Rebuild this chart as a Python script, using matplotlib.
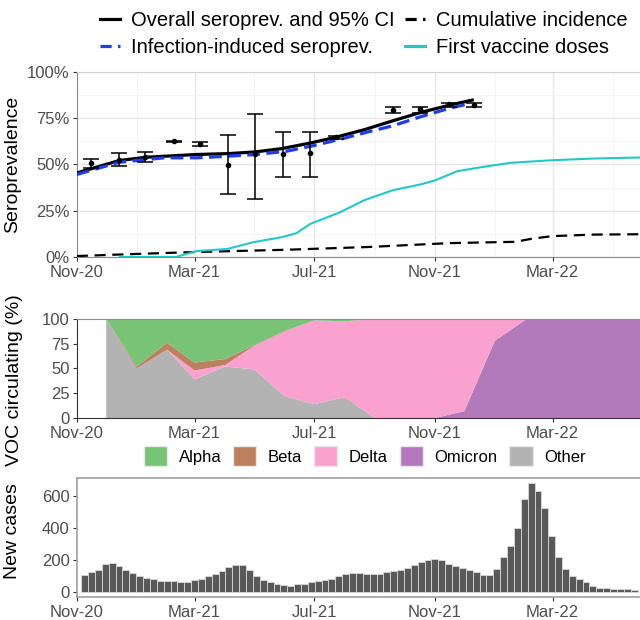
import numpy as np
import pandas as pd
import matplotlib
matplotlib.use("Agg")
import matplotlib.pyplot as plt
import matplotlib.dates as mdates
from matplotlib.patches import Patch
from matplotlib.lines import Line2D
from matplotlib.ticker import FuncFormatter

plt.rcParams['font.family'] = ['Liberation Sans', 'DejaVu Sans']

# serosurvey estimates with 95% CI
sero_dates = ['2020-11-15', '2020-12-14', '2021-01-10', '2021-02-08', '2021-03-07',
              '2021-04-04', '2021-05-02', '2021-05-30', '2021-06-27', '2021-07-23',
              '2021-09-19', '2021-10-17', '2021-11-15', '2021-12-11']
sero_est = [50.9, 52.3, 53.8, 62.5, 61.1, 49.6, 55.4, 55.9, 56.1, 64.6, 79.5, 79.8, 82.5, 82.1]
sero_lo = [48.2, 49.1, 51.1, 62.1, 59.8, 33.8, 31.6, 43.2, 43.2, 64.0, 78.0, 77.7, 81.2, 80.9]
sero_hi = [53.0, 56.2, 57.0, 62.9, 62.3, 65.7, 77.3, 67.7, 67.7, 65.2, 81.1, 81.2, 83.0, 83.2]

# fitted overall seroprevalence
overall_dates = ['2020-11-01', '2020-12-14', '2021-01-10', '2021-03-03', '2021-04-05',
                 '2021-05-02', '2021-05-29', '2021-06-27', '2021-07-22', '2021-08-21',
                 '2021-09-19', '2021-10-18', '2021-11-16', '2021-12-09']
overall_val = [45.4, 52.1, 53.9, 55.4, 55.9, 56.8, 58.6, 61.6, 64.6, 68.8, 73.6, 78.2, 82.1, 84.8]

# infection-induced seroprevalence
infect_dates = ['2020-11-01', '2020-12-14', '2021-01-29', '2021-03-03', '2021-04-05',
                '2021-05-02', '2021-06-02', '2021-06-27', '2021-07-26', '2021-08-24',
                '2021-09-19', '2021-10-18', '2021-11-16', '2021-12-03']
infect_val = [44.6, 51.2, 53.6, 53.6, 54.5, 55.4, 57.1, 59.8, 63.4, 67.5, 70.9, 75.9, 80.4, 82.5]

# first vaccine doses (% population)
vacc_dates = ['2020-12-15', '2021-02-10', '2021-03-03', '2021-04-03', '2021-04-30',
              '2021-05-29', '2021-06-13', '2021-06-27', '2021-07-27', '2021-08-21',
              '2021-09-19', '2021-10-18', '2021-11-01', '2021-11-24', '2021-12-19',
              '2022-01-17', '2022-02-28', '2022-04-11', '2022-05-30']
vacc_val = [0, 0, 3.2, 4.3, 8.0, 10.7, 12.9, 17.9, 24.1, 30.7, 36.1, 39.3, 41.4,
            46.4, 48.6, 50.9, 52.3, 53.2, 53.8]

# cumulative incidence
cumi_dates = ['2020-11-01', '2020-12-18', '2021-03-03', '2021-06-02', '2021-08-25',
              '2021-11-16', '2022-01-22', '2022-02-07', '2022-02-28', '2022-04-11', '2022-05-30']
cumi_val = [0.5, 1.4, 2.7, 3.9, 5.4, 7.5, 8.2, 9.8, 11.25, 12.1, 12.3]

# variants of concern, monthly share (%)
voc_dates = pd.date_range('2020-12-01', '2022-06-01', freq='MS')
voc_other = [100, 50, 69, 39, 52, 49, 22, 14, 21, 0, 0, 0, 0, 0, 0, 0, 0, 0, 0]
voc_omicron = [0, 0, 0, 0, 0, 0, 0, 0, 0, 0, 0, 0, 7, 78, 99, 100, 100, 100, 100]
voc_delta = [0, 0, 0, 9, 1.5, 24, 65.5, 84.6, 76.6, 100, 100, 100, 93, 22, 1, 0, 0, 0, 0]
voc_beta = [0, 2, 7, 8, 6, 0.5, 0.5, 0, 0, 0, 0, 0, 0, 0, 0, 0, 0, 0, 0]
voc_alpha = [0, 48, 24, 44, 40.5, 26.5, 12, 1.4, 2.4, 0, 0, 0, 0, 0, 0, 0, 0, 0, 0]

# weekly new cases
week_start = pd.date_range('2020-11-09', periods=81, freq='7D')
new_cases = [105, 120, 135, 173, 177, 160, 137, 114, 97, 88, 80, 67, 67, 67, 63, 63, 72, 78,
             95, 112, 128, 155, 170, 170, 135, 95, 72, 59,
             47, 39, 34, 46, 48, 61, 67, 73, 79, 96, 112, 119, 119, 113, 112, 112, 122, 130,
             135, 148, 166, 184, 200, 204, 200, 176, 161, 147, 135,
             122, 107, 107, 143, 217, 286, 402, 579, 684, 632, 526, 347, 217, 139, 99, 78,
             59, 38, 25, 21, 17, 15, 15, 13]

xmin = pd.Timestamp('2020-11-01')
xmax = pd.Timestamp('2022-05-29')
tick_col = '#4d4d4d'

fig = plt.figure(figsize=(6.4, 6.2), dpi=100)
ax1 = fig.add_axes([0.12, 0.5855, 0.88, 0.2984])
ax2 = fig.add_axes([0.12, 0.3258, 0.88, 0.1597])
ax3 = fig.add_axes([0.12, 0.0371, 0.88, 0.192])

# --- top panel
ax1.plot(pd.to_datetime(overall_dates), overall_val, '-', color='black', lw=2.3, zorder=3)
ax1.plot(pd.to_datetime(infect_dates), infect_val, color='#1f3cf0', lw=2.3,
         dashes=(4, 2), zorder=4)
ax1.plot(pd.to_datetime(cumi_dates), cumi_val, color='black', lw=1.6, dashes=(5, 3), zorder=3)
ax1.plot(pd.to_datetime(vacc_dates), vacc_val, color='#22c8c8', lw=1.5, zorder=3)
sd = pd.to_datetime(sero_dates)
est = np.array(sero_est)
yerr = [est - np.array(sero_lo), np.array(sero_hi) - est]
ax1.errorbar(sd, est, yerr=yerr, fmt='o', color='black', ms=3, elinewidth=1.1,
             capsize=6, capthick=1.1, zorder=5)
ax1.set_ylim(0, 100)
ax1.set_yticks([0, 25, 50, 75, 100])
ax1.set_yticks([12.5, 37.5, 62.5, 87.5], minor=True)
ax1.yaxis.set_major_formatter(FuncFormatter(lambda v, p: '%d%%' % v))
ax1.grid(which='major', color='#e6e6e6', lw=1.0)
ax1.grid(which='minor', color='#f3f3f3', lw=0.6)
ax1.set_axisbelow(True)
ax1.spines['right'].set_visible(False)
ax1.spines['top'].set_color('#d0d0d0')
ax1.spines['left'].set_color('#8a8a8a')
ax1.spines['bottom'].set_color('#8a8a8a')

# --- middle panel
voc_cols = ['#b3b3b3', '#b27aba', '#f9a1cf', '#bc805e', '#79c377']
ax2.stackplot(voc_dates, voc_other, voc_omicron, voc_delta, voc_beta, voc_alpha,
              colors=voc_cols, lw=0)
ax2.set_ylim(0, 100)
ax2.set_yticks([0, 25, 50, 75, 100])
ax2.spines['right'].set_visible(False)
ax2.spines['top'].set_color('#8a8a8a')
ax2.spines['left'].set_color('#333333')
ax2.spines['bottom'].set_color('#333333')

# --- bottom panel
ax3.bar(week_start, new_cases, width=7, color='#595959', edgecolor='#d9d9d9', lw=0.6)
ax3.set_ylim(-34, 714)
ax3.set_yticks([0, 200, 400, 600])
for s in ['top', 'left', 'bottom']:
    ax3.spines[s].set_color('#a0a0a0')
    ax3.spines[s].set_linewidth(1.2)
ax3.spines['right'].set_visible(False)

for ax in [ax1, ax2, ax3]:
    ax.set_xlim(xmin, xmax)
    ax.xaxis.set_major_locator(mdates.MonthLocator(bymonth=[3, 7, 11]))
    ax.xaxis.set_minor_locator(mdates.MonthLocator(bymonth=[1, 5, 9]))
    ax.xaxis.set_major_formatter(mdates.DateFormatter('%b-%y'))
    ax.tick_params(which='major', length=3, width=0.8, color='#333333',
                   labelcolor=tick_col, labelsize=12, pad=2)
    ax.tick_params(axis='x', which='major', pad=3)
    ax.tick_params(which='minor', length=0)

fig.text(0.019, 0.7347, 'Seroprevalence', rotation=90, ha='center', va='center', fontsize=14)
fig.text(0.022, 0.387, 'VOC circulating (%)', rotation=90, ha='center', va='center', fontsize=14)
fig.text(0.019, 0.1435, 'New cases', rotation=90, ha='center', va='center', fontsize=14)

# legends
top_handles = [Line2D([], [], color='black', lw=2.3),
               Line2D([], [], color='#1f3cf0', lw=2.3, dashes=(3.5, 2)),
               Line2D([], [], color='black', lw=2.3, dashes=(3.5, 2)),
               Line2D([], [], color='#22c8c8', lw=2.3)]
top_labels = ['Overall seroprev. and 95% CI', 'Infection-induced seroprev.',
              'Cumulative incidence', 'First vaccine doses']
fig.legend(top_handles, top_labels, ncol=2, loc='upper center', bbox_to_anchor=(0.568, 1.012),
           frameon=False, fontsize=14.5, handlelength=1.0, handletextpad=0.55,
           columnspacing=0.5, labelspacing=0.4)

voc_handles = [Patch(facecolor=c, edgecolor='#e8e8e8') for c in
               ['#79c377', '#bc805e', '#f9a1cf', '#b27aba', '#b3b3b3']]
fig.legend(voc_handles, ['Alpha', 'Beta', 'Delta', 'Omicron', 'Other'], ncol=5,
           loc='center', bbox_to_anchor=(0.57, 0.2645), frameon=False, fontsize=12,
           handlelength=1.4, handleheight=1.4, handletextpad=0.7, columnspacing=0.7)

fig.savefig('out.png', dpi=100)
